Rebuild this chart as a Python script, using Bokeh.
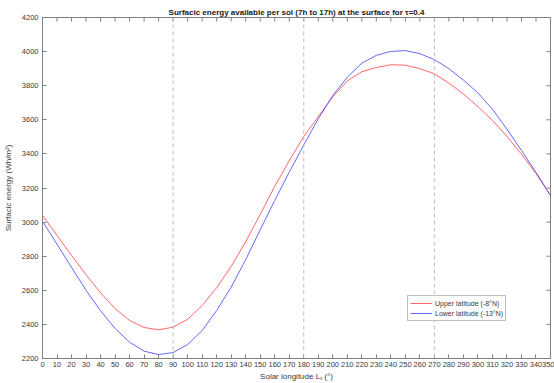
import math
from bokeh.plotting import figure
from bokeh.models import Range1d, Span, FixedTicker, Legend, LegendItem
from bokeh.embed import file_html
from bokeh.resources import INLINE

ls = [0, 10, 20, 30, 40, 50, 60, 70, 80, 90, 100, 110, 120, 130, 140, 150, 160, 170,
      180, 190, 200, 210, 220, 230, 240, 250, 260, 270, 280, 290, 300, 310, 320, 330, 340, 350]
upper = [3040, 2922, 2805, 2692, 2585, 2493, 2423, 2382, 2368, 2384, 2430, 2511, 2615, 2740,
         2885, 3045, 3210, 3360, 3502, 3618, 3735, 3828, 3882, 3907, 3923, 3920, 3900, 3870,
         3815, 3752, 3678, 3596, 3503, 3398, 3285, 3156]
lower = [3005, 2870, 2735, 2600, 2480, 2376, 2296, 2243, 2223, 2235, 2282, 2364, 2482, 2618,
         2780, 2955, 3127, 3293, 3452, 3606, 3743, 3850, 3932, 3978, 4001, 4006, 3988, 3953,
         3900, 3833, 3758, 3662, 3545, 3420, 3292, 3156]
season_marks = [90, 180, 270]
x_ticks = list(range(0, 351, 10))
y_ticks = list(range(2200, 4201, 200))
x_min, x_max = 0, 350
y_min, y_max = 2200, 4200

FONT = "Liberation Sans"
AX = "#808080"
TXT = "#3a3a3a"

p = figure(width=554, height=383, output_backend="svg", toolbar_location=None,
           x_range=Range1d(x_min, x_max), y_range=Range1d(y_min, y_max),
           min_border_left=40, min_border_right=4, min_border_top=17, min_border_bottom=25)
p.title.text = "Surfacic energy available per sol (7h to 17h) at the surface for \u03c4=0.4"
p.title.align = "center"
p.title.text_font = FONT
p.title.text_font_size = "8px"
p.title.text_font_style = "bold"
p.title.text_color = "#202020"
p.title.standoff = 2
p.grid.visible = False
p.outline_line_color = AX
p.outline_line_width = 1
p.background_fill_color = "white"
p.border_fill_color = "white"

for ax in p.xaxis + p.yaxis:
    ax.axis_line_color = AX
    ax.major_tick_line_color = AX
    ax.major_tick_in = 4
    ax.major_tick_out = 0
    ax.minor_tick_line_color = None
    ax.major_label_text_font = FONT
    ax.major_label_text_font_size = "7.5px"
    ax.major_label_text_color = TXT
    ax.axis_label_text_font = FONT
    ax.axis_label_text_font_size = "8px"
    ax.axis_label_text_font_style = "normal"
    ax.axis_label_text_color = TXT
p.xaxis.ticker = FixedTicker(ticks=x_ticks)
p.yaxis.ticker = FixedTicker(ticks=y_ticks)
p.xaxis.axis_label = "Solar longitude L\u209b (\u00b0)"
p.yaxis.axis_label = "Surfacic energy (Wh/m\u00b2)"
p.xaxis.major_label_standoff = 3
p.yaxis.major_label_standoff = 4
p.xaxis.axis_label_standoff = 2
p.yaxis.axis_label_standoff = 6

# mirrored inward ticks on the top and right edges (clipped half-dashes)
p.scatter(x=x_ticks, y=[y_max] * len(x_ticks), marker="dash", angle=math.pi / 2,
          size=8, line_color=AX, line_width=1)
p.scatter(x=[x_max] * len(y_ticks), y=y_ticks, marker="dash", angle=0,
          size=8, line_color=AX, line_width=1)

for m in season_marks:
    p.add_layout(Span(location=m, dimension="height", line_color="#bdbdbd",
                      line_width=1, line_dash="4 3"))

r1 = p.line(ls, upper, line_color="#ff4040", line_width=0.8)
r2 = p.line(ls, lower, line_color="#4040ff", line_width=0.8)

legend = Legend(items=[LegendItem(label="Upper latitude (-8\u00b0N)", renderers=[r1]),
                       LegendItem(label="Lower latitude (-13\u00b0N)", renderers=[r2])],
                location=(365, 37), label_text_font=FONT, label_text_font_size="7px",
                label_text_color=TXT, glyph_width=22, glyph_height=10, label_height=10,
                label_standoff=3, padding=2, spacing=0, margin=0,
                border_line_color="#808080", border_line_width=1)
p.add_layout(legend, "center")

open("out.html", "w").write(file_html(p, INLINE))
